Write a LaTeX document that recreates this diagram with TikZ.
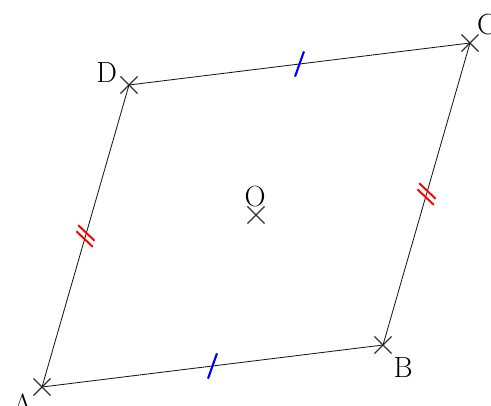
\documentclass[tikz,border=0pt]{standalone}
\usetikzlibrary{shapes.misc,decorations.markings}
\begin{document}
\begin{tikzpicture}[every node/.style={font=\huge},
  pt/.style={draw, cross out, thick, black!80, minimum size=0.4cm, inner sep=0pt},
  side/.style={black!90, line width=0.6pt},
  onebar/.style={postaction={decorate, decoration={markings, mark=at position 0.5 with {\draw[blue, line width=1.5pt] (-0.15,-0.3) -- (0.15,0.3);}}}},
  twobar/.style={postaction={decorate, decoration={markings, mark=at position 0.5 with {\draw[red, line width=1.4pt] (-0.21,-0.25) -- (0.05,0.25); \draw[red, line width=1.4pt] (-0.05,-0.25) -- (0.21,0.25);}}}}]
\useasboundingbox (0,0) rectangle (12.275,10.125);
% sommets
\node[pt] (A) at (1.05,0.45) {};
\node[pt] (B) at (9.575,1.5) {};
\node[pt] (C) at (11.75,9.05) {};
\node[pt] (D) at (3.225,8.0) {};
\node[pt] (O) at (6.4,4.75) {};
% noms
\node (labA) at (0.57,0.02) {A};
\node (labB) at (10.08,0.93) {B};
\node (labC) at (12.17,9.5) {C};
\node (labD) at (2.67,8.3) {D};
\node (labO) at (6.38,5.22) {O};
% côtés
\draw[side, onebar] (A.center) -- (B.center);
\draw[side, twobar] (B.center) -- (C.center);
\draw[side, onebar] (D.center) -- (C.center);
\draw[side, twobar] (A.center) -- (D.center);
\end{tikzpicture}
\end{document}
